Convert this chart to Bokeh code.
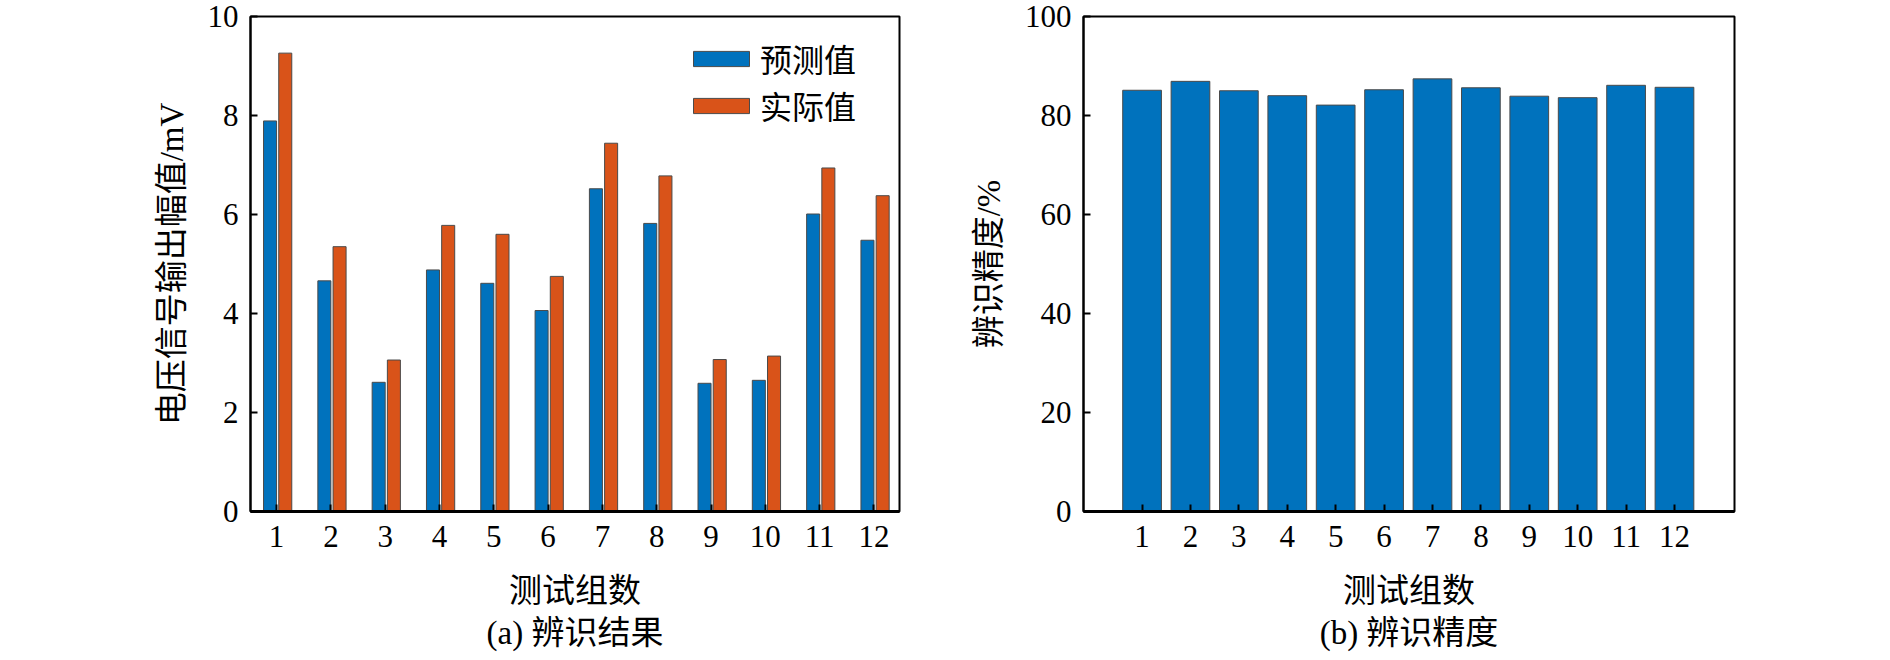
from bokeh.plotting import figure
from bokeh.layouts import row
from bokeh.models import ColumnDataSource, FixedTicker, Range1d, Title, Legend, LegendItem
from bokeh.transform import dodge
from bokeh.embed import file_html
from bokeh.resources import INLINE

groups = [1, 2, 3, 4, 5, 6, 7, 8, 9, 10, 11, 12]
predicted = [7.89, 4.66, 2.61, 4.88, 4.61, 4.06, 6.52, 5.82, 2.59, 2.65, 6.01, 5.48]
actual = [9.26, 5.35, 3.06, 5.78, 5.60, 4.75, 7.44, 6.78, 3.07, 3.14, 6.94, 6.38]
accuracy = [85.1, 86.9, 85.0, 84.0, 82.1, 85.2, 87.4, 85.6, 83.9, 83.6, 86.1, 85.7]
yticks_a = [0, 2, 4, 6, 8, 10]
yticks_b = [0, 20, 40, 60, 80, 100]

FONT = "'Liberation Serif', 'Noto Sans CJK SC'"
BLUE = "#0072BD"
ORANGE = "#D95319"
EDGE = "#4a4a4a"


def style(p, yticks):
    p.outline_line_color = "black"
    p.outline_line_width = 2
    p.xgrid.visible = False
    p.ygrid.visible = False
    p.background_fill_color = "white"
    p.border_fill_color = "white"
    p.xaxis.ticker = FixedTicker(ticks=groups)
    p.yaxis.ticker = FixedTicker(ticks=yticks)
    for ax in (p.xaxis[0], p.yaxis[0]):
        ax.major_tick_in = 7
        ax.major_tick_out = 0
        ax.minor_tick_line_color = None
        ax.major_tick_line_width = 2
        ax.major_tick_line_color = "black"
        ax.axis_line_width = 2
        ax.axis_line_color = "black"
        ax.major_label_text_font = FONT
        ax.major_label_text_font_size = "31px"
        ax.major_label_text_color = "black"
        ax.axis_label_text_font = FONT
        ax.axis_label_text_font_size = "33px"
        ax.axis_label_text_font_style = "normal"
        ax.axis_label_text_color = "black"
    p.xaxis[0].axis_line_width = 3
    p.xaxis[0].major_label_standoff = 14
    p.yaxis[0].major_label_standoff = 12
    p.xaxis[0].axis_label_standoff = 23
    p.yaxis[0].axis_label_standoff = 15


src = ColumnDataSource(dict(g=groups, pred=predicted, act=actual, acc=accuracy))

# ---- (a) ----
pa = figure(width=909, height=660, min_border_left=250, min_border_right=10,
            min_border_top=16, min_border_bottom=149,
            x_range=Range1d(0.52, 12.47), y_range=Range1d(0, 10),
            output_backend="svg", toolbar_location=None, title=None)
rb = pa.vbar(x=dodge("g", -0.12, range=pa.x_range), top="pred", width=0.24, bottom=0,
             source=src, fill_color=BLUE, line_color=EDGE, line_width=1)
ro = pa.vbar(x=dodge("g", 0.16, range=pa.x_range), top="act", width=0.24, bottom=0,
             source=src, fill_color=ORANGE, line_color=EDGE, line_width=1)
style(pa, yticks_a)
pa.xaxis.axis_label = "测试组数"
pa.yaxis.axis_label = "电压信号输出幅值/mV"
leg = Legend(items=[LegendItem(label="预测值", renderers=[rb]),
                    LegendItem(label="实际值", renderers=[ro])],
             location=(436, 383), border_line_color=None, background_fill_alpha=0,
             glyph_width=70, glyph_height=19, label_standoff=4, padding=0, spacing=1,
             label_text_font=FONT, label_text_font_size="32px", label_text_color="black")
pa.add_layout(leg)
pa.add_layout(Title(text="(a) 辨识结果", align="center", text_font=FONT,
                    text_font_size="33px", text_font_style="normal",
                    text_color="black", standoff=2), "below")

# ---- (b) ----
pb = figure(width=845, height=660, min_border_left=174, min_border_right=20,
            min_border_top=16, min_border_bottom=149,
            x_range=Range1d(-0.21, 13.24), y_range=Range1d(0, 100),
            output_backend="svg", toolbar_location=None, title=None)
pb.vbar(x="g", top="acc", width=0.8, bottom=0, source=src,
        fill_color=BLUE, line_color=EDGE, line_width=1)
style(pb, yticks_b)
pb.xaxis.axis_label = "测试组数"
pb.yaxis.axis_label = "辨识精度/%"
pb.add_layout(Title(text="(b) 辨识精度", align="center", text_font=FONT,
                    text_font_size="33px", text_font_style="normal",
                    text_color="black", standoff=2), "below")

layout = row(pa, pb)
open("out.html", "w").write(file_html(layout, INLINE))
